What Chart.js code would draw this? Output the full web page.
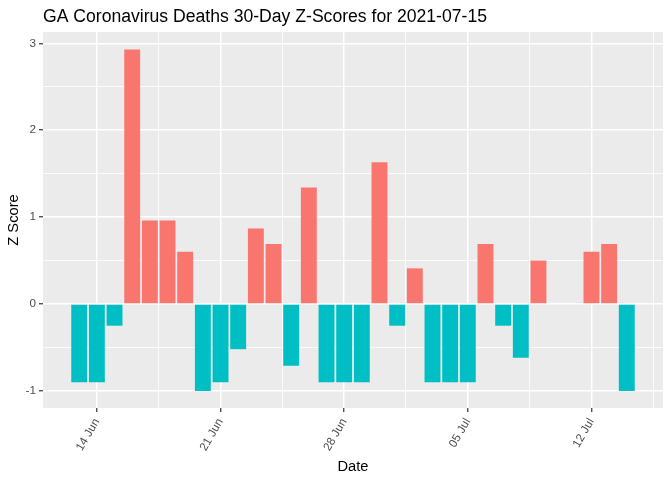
<!DOCTYPE html>
<html>
<head>
<meta charset="utf-8">
<script src="https://cdn.jsdelivr.net/npm/chart.js@4"></script>
<style>
  html, body { margin: 0; padding: 0; background: #ffffff; }
  #wrap { width: 672px; height: 480px; }
</style>
</head>
<body>
<div id="wrap"><canvas id="zchart"></canvas></div>
<script>
// GA deaths z-scores, 30 days (10 and 11 Jul have no value)
const dates = [
  '2021-06-13', '2021-06-14', '2021-06-15', '2021-06-16', '2021-06-17', '2021-06-18',
  '2021-06-19', '2021-06-20', '2021-06-21', '2021-06-22', '2021-06-23', '2021-06-24',
  '2021-06-25', '2021-06-26', '2021-06-27', '2021-06-28', '2021-06-29', '2021-06-30',
  '2021-07-01', '2021-07-02', '2021-07-03', '2021-07-04', '2021-07-05', '2021-07-06',
  '2021-07-07', '2021-07-08', '2021-07-09', '2021-07-12', '2021-07-13', '2021-07-14'
];
const zScores = [
  -0.90, -0.90, -0.25, 2.93, 0.96, 0.96,
  0.60, -1.00, -0.90, -0.52, 0.87, 0.69,
  -0.71, 1.34, -0.90, -0.90, -0.90, 1.63,
  -0.25, 0.41, -0.90, -0.90, -0.90, 0.69,
  -0.25, -0.62, 0.50, 0.60, 0.69, -1.00
];
const xTickDates = ['2021-06-14', '2021-06-21', '2021-06-28', '2021-07-05', '2021-07-12'];
const xTickLabels = ['14 Jun', '21 Jun', '28 Jun', '05 Jul', '12 Jul'];
const yTicks = [-1, 0, 1, 2, 3];

const DAY = 86400000;
const start = Date.parse(dates[0]);
const dayNo = d => (Date.parse(d) - start) / DAY;

const points = dates.map((d, i) => ({ x: dayNo(d), y: zScores[i] }));
const xMajor = xTickDates.map(dayNo);
const xMinor = xMajor.map(v => v + 3.5).concat([xMajor[0] - 3.5]);
const yMinor = yTicks.slice(1).map(v => v - 0.5);

const POS = '#F8766D', NEG = '#00BFC4';
const FONT = "'Liberation Sans', Arial, sans-serif";

const panelBg = {
  id: 'panelBg',
  beforeDraw(chart) {
    const { ctx, chartArea: a } = chart;
    ctx.save();
    ctx.fillStyle = '#EBEBEB';
    ctx.fillRect(a.left, a.top, a.right - a.left, a.bottom - a.top);
    ctx.restore();
  }
};

const leftTitle = {
  id: 'leftTitle',
  afterDraw(chart) {
    const { ctx, chartArea: a } = chart;
    ctx.save();
    ctx.font = '17.6px ' + FONT;
    ctx.fillStyle = '#000000';
    ctx.textAlign = 'left';
    ctx.textBaseline = 'alphabetic';
    ctx.fillText('GA Coronavirus Deaths 30-Day Z-Scores for 2021-07-15', a.left, 22);
    ctx.restore();
  }
};

new Chart(document.getElementById('zchart'), {
  type: 'bar',
  data: {
    datasets: [{
      data: points,
      backgroundColor: zScores.map(v => v >= 0 ? POS : NEG),
      borderWidth: 0,
      barPercentage: 0.9,
      categoryPercentage: 1.0
    }]
  },
  options: {
    responsive: true,
    maintainAspectRatio: false,
    animation: false,
    layout: { padding: { top: 32, right: 9, left: 0, bottom: 0 } },
    plugins: {
      legend: { display: false },
      title: { display: false },
      tooltip: { enabled: false }
    },
    scales: {
      x: {
        type: 'linear',
        offset: false,
        min: -2.05,
        max: 33.05,
        afterBuildTicks: s => {
          s.ticks = xMajor.concat(xMinor).filter(v => v >= s.min && v <= s.max).map(v => ({ value: v }));
        },
        afterFit: s => { s.height = 72; },
        border: { display: false },
        grid: {
          offset: false,
          color: '#FFFFFF',
          lineWidth: c => xMajor.includes(c.tick.value) ? 1.5 : 0.8,
          tickColor: c => xMajor.includes(c.tick.value) ? '#333333' : 'rgba(0,0,0,0)',
          tickLength: 4,
          tickWidth: 1.2
        },
        ticks: {
          autoSkip: false,
          minRotation: 60,
          maxRotation: 60,
          padding: 4,
          color: '#4D4D4D',
          font: { family: FONT, size: 11.7 },
          callback: v => {
            const i = xMajor.indexOf(v);
            return i >= 0 ? xTickLabels[i] : '';
          }
        },
        title: {
          display: true,
          text: 'Date',
          color: '#000000',
          font: { family: FONT, size: 14.7 },
          padding: { top: 0, bottom: 4 }
        }
      },
      y: {
        type: 'linear',
        min: -1.197,
        max: 3.13,
        afterBuildTicks: s => {
          s.ticks = yTicks.concat(yMinor).map(v => ({ value: v }));
        },
        afterFit: s => { s.width = 43; },
        border: { display: false },
        grid: {
          color: '#FFFFFF',
          lineWidth: c => Number.isInteger(c.tick.value) ? 1.5 : 0.8,
          tickColor: c => Number.isInteger(c.tick.value) ? '#333333' : 'rgba(0,0,0,0)',
          tickLength: 4,
          tickWidth: 1.2
        },
        ticks: {
          padding: 3,
          color: '#4D4D4D',
          font: { family: FONT, size: 11.7 },
          callback: v => Number.isInteger(v) ? String(v) : ''
        },
        title: {
          display: true,
          text: 'Z Score',
          color: '#000000',
          font: { family: FONT, size: 14.7 },
          padding: { top: 5, bottom: 0 }
        }
      }
    }
  },
  plugins: [panelBg, leftTitle]
});
</script>
</body>
</html>
